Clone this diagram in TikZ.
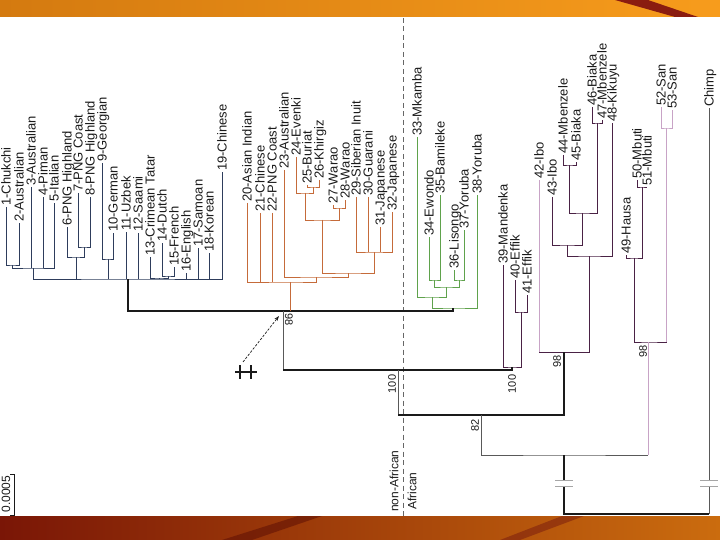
\documentclass[tikz,border=0pt]{standalone}
\usepackage{fontspec}
\setmainfont{Liberation Sans}
\usetikzlibrary{arrows.meta}
\definecolor{slideink}{HTML}{1A1A1A}
\definecolor{eurasia}{HTML}{2E3D5C}
\definecolor{eastasia}{HTML}{C56B3A}
\definecolor{bantu}{HTML}{5FA24C}
\definecolor{afrodark}{HTML}{4A2245}
\definecolor{afrolight}{HTML}{C8A3C6}
\definecolor{bandamber}{HTML}{D47A10}
\definecolor{bandorange}{HTML}{F79C1C}
\definecolor{bandred}{HTML}{8A1C10}
\definecolor{bandrust}{HTML}{7A1606}
\definecolor{bandcopper}{HTML}{CB6C0E}

\begin{document}
\begin{tikzpicture}[
  x=1pt,
  y=-1pt,
  every node/.style={font=\fontsize{13}{15}\selectfont, slideink},
  leaf/.style={rotate=90, anchor=west, inner sep=1pt, text height=9.3pt, text depth=0pt},
  side/.style={font=\fontsize{12}{14}\selectfont},
  boot/.style={font=\fontsize{11}{13}\selectfont, inner sep=0pt},
  branch/.style={line width=0.9pt},
  eurbranch/.style={branch, eurasia},
  asiabranch/.style={branch, eastasia},
  bantubranch/.style={branch, bantu},
  afrobranch/.style={branch, afrodark},
  afropale/.style={branch, afrolight},
  backbone/.style={slideink, line width=1.3pt},
  twig/.style={black!65, line width=0.8pt}
]
  \useasboundingbox (0,0) rectangle (720,540);

  % ================= slide bands =========================================
  \shade[left color=bandamber, right color=bandorange] (0,0) rectangle (720,17);
  \fill[bandred] (615,0) -- (648,0) -- (698,17) -- (675,17) -- cycle;
  \shade[left color=bandrust, right color=bandcopper] (0,516) rectangle (720,540);
  \fill[bandrust!80!black, opacity=0.6] (222,540) -- (252,540) -- (322,516) -- (298,516) -- cycle;
  \fill[bandred!85!black, opacity=0.5] (500,540) -- (520,540) -- (584,516) -- (562,516) -- cycle;

  % ================= non-African / African divider =======================
  \draw[black!60, line width=0.7pt, dash pattern=on 5pt off 3.5pt] (403,18) -- (403,516);
  \node[side, rotate=90] (nonafr) at (394,481) {non-African};
  \node[side, rotate=90] (afr) at (412,491) {African};

  % ================= leaves ==============================================
  \foreach \n/\x/\y/\t in {1/6/207/Chukchi, 2/19/223/Australian, 3/31/187/Australian,
      4/43/197/Piman, 5/54/203/Italian, 6/67/227/PNG Highland, 7/78/193/PNG Coast,
      8/90/197/PNG Highland, 9/102/163/Georgian, 10/113/233/German, 11/126/232/Uzbek,
      12/138/233/Saami, 13/150/257/Crimean Tatar, 14/162/243/Dutch, 15/174/267/French,
      16/186/273/English, 17/198/248/Samoan, 18/209/253/Korean, 19/222/172/Chinese,
      20/247/203/Asian Indian, 21/260/213/Chinese, 22/272/213/PNG Coast,
      23/284/170/Australian, 24/296/157/Evenki, 25/307/185/Buriat, 26/319/180/Khirgiz,
      27/333/205/Warao, 28/345/200/Warao, 29/356/197/Siberian Inuit, 30/368/197/Guarani,
      31/380/227/Japanese, 32/392/212/Japanese,
      33/417/137/Mkamba, 34/429/237/Ewondo, 35/440/195/Bamileke, 36/454/270/Lisongo,
      37/464/230/Yoruba, 38/477/195/Yoruba,
      39/503/265/Mandenka, 40/515/280/Effik, 41/527/295/Effik, 42/539/180/Ibo,
      43/552/197/Ibo, 44/563/155/Mbenzele, 45/576/162/Biaka, 46/592/107/Biaka,
      47/602/120/Mbenzele, 48/612/123/Kikuyu, 49/626/255/Hausa, 50/637/180/Mbuti,
      51/647/187/Mbuti, 52/661/107/San, 53/672/110/San}
    \node[leaf] (l\n) at (\x,\y) {\n-\t};
  \node[leaf] (chimp) at (709,108) {Chimp};

  % ================= Eurasian cluster ====================================
  \coordinate (g1a) at (12.5,265);
  \coordinate (g1b) at (33,268);
  \coordinate (g1c) at (84,247);
  \coordinate (g1d) at (76,257);
  \coordinate (g1e) at (108,259);
  \coordinate (g1f) at (168,276);
  \coordinate (g1g) at (159,278);
  \coordinate (g1) at (128,279);
  \draw[eurbranch] (l1.west) |- (g1a) -| (l2.west);
  \draw[eurbranch] (g1a) |- (g1b) -| (l5.west);
  \draw[eurbranch] (l7.west) |- (g1c) -| (l8.west);
  \draw[eurbranch] (l6.west) |- (g1d) -| (g1c);
  \draw[eurbranch] (l9.west) |- (g1e) -| (l10.west);
  \draw[eurbranch] (l14.west) |- (g1f) -| (l15.west);
  \draw[eurbranch] (l13.west) |- (g1g) -| (g1f);
  \draw[eurbranch] (g1b) |- (g1) -| (l19.west);
  \foreach \c in {l3.west, l4.west}
    \draw[eurbranch] (\c) -- (\c |- g1b);
  \foreach \c in {g1d, g1e, l11.west, l12.west, g1g, l16.west, l17.west, l18.west}
    \draw[eurbranch] (\c) -- (\c |- g1);

  % ================= East Asian / American cluster =======================
  \coordinate (o1) at (313,187);
  \coordinate (o2) at (305,193);
  \coordinate (o3) at (339,208);
  \coordinate (o4) at (322,220);
  \coordinate (o5) at (374,252);
  \coordinate (o6) at (348,273);
  \coordinate (o7) at (316,277);
  \coordinate (o8) at (290,282);
  \draw[asiabranch] (l25.west) |- (o1) -| (l26.west);
  \draw[asiabranch] (l24.west) |- (o2) -| (o1);
  \draw[asiabranch] (l27.west) |- (o3) -| (l28.west);
  \draw[asiabranch] (o2) |- (o4) -| (o3);
  \draw[asiabranch] (l29.west) |- (o5) -| (l32.west);
  \foreach \c in {l30.west, l31.west}
    \draw[asiabranch] (\c) -- (\c |- o5);
  \draw[asiabranch] (o4) |- (o6) -| (o5);
  \draw[asiabranch] (l23.west) |- (o7) -| (o6);
  \draw[asiabranch] (l20.west) |- (o8) -| (o7);
  \foreach \c in {l21.west, l22.west}
    \draw[asiabranch] (\c) -- (\c |- o8);

  % ================= Bantu cluster =======================================
  \coordinate (gr1) at (434.5,280);
  \coordinate (gr2) at (459,280);
  \coordinate (gr3) at (446,287);
  \coordinate (gr4) at (432,297);
  \coordinate (gr5) at (453,308);
  \draw[bantubranch] (l34.west) |- (gr1) -| (l35.west);
  \draw[bantubranch] (l36.west) |- (gr2) -| (l37.west);
  \draw[bantubranch] (gr1) |- (gr3) -| (gr2);
  \draw[bantubranch] (l33.west) |- (gr4) -| (gr3);
  \draw[bantubranch] (gr4) |- (gr5) -| (l38.west);

  % ================= African clusters ====================================
  \coordinate (p1) at (521,312);
  \coordinate (p2) at (512,367);
  \coordinate (p3) at (569.5,165);
  \coordinate (p4) at (597,123);
  \coordinate (p5) at (582,213);
  \coordinate (p6) at (567,245);
  \coordinate (p7) at (589,256);
  \coordinate (p8) at (564,352);
  \coordinate (p9) at (642,187);
  \coordinate (p10) at (634,258);
  \coordinate (p11) at (666.5,128);
  \coordinate (p12) at (648,342);
  \draw[afrobranch] (l40.west) |- (p1) -| (l41.west);
  \draw[afrobranch] (l39.west) |- (p2) -| (p1);
  \draw[afrobranch] (l44.west) |- (p3) -| (l45.west);
  \draw[afrobranch] (l46.west) |- (p4) -| (l47.west);
  \draw[afrobranch] (p3) |- (p5) -| (p4);
  \draw[afrobranch] (l43.west) |- (p6) -| (p5);
  \draw[afrobranch] (p6) |- (p7) -| (l48.west);
  \draw[afropale] (l42.west) -- (l42.west |- p8);
  \draw[afrobranch] (l42.west |- p8) -| (p7);
  \draw[afrobranch] (l50.west) |- (p9) -| (l51.west);
  \draw[afrobranch] (l49.west) |- (p10) -| (p9);
  \draw[afropale] (l52.west) |- (p11) -| (l53.west);
  \draw[afrobranch] (p10) |- (p12) -- (p12 -| p11);
  \draw[afropale] (p12 -| p11) -- (p11);

  % ================= backbone ============================================
  \coordinate (b1) at (283,311);
  \coordinate (b2) at (398,370);
  \coordinate (b3) at (481,415);
  \coordinate (b4) at (564,455);
  \coordinate (r0) at (636,514);
  \draw[backbone] (g1) |- (b1) -| (gr5);
  \draw[asiabranch] (o8) -- (o8 |- b1);
  \draw[twig] (b1) -- (b1 |- b2);
  \draw[backbone] (b1 |- b2) -| (p2);
  \draw[twig] (b2) -- (b2 |- b3);
  \draw[backbone] (b2 |- b3) -| (p8);
  \draw[twig] (b3) |- (b4) -- (b4 -| p12);
  \draw[afropale] (b4 -| p12) -- (p12);
  \draw[backbone] (b4) |- (r0) -- (r0 -| chimp.west);
  \draw[twig] (r0 -| chimp.west) -- (chimp.west);

  % breaks in the two long branches
  \coordinate (brkA) at (564,483);
  \coordinate (brkB) at (709,483);
  \foreach \c in {brkA, brkB} {
    \fill[white] ([xshift=-9pt,yshift=-3pt]\c) rectangle ([xshift=9pt,yshift=3pt]\c);
    \draw[black!35, line width=0.8pt]
      ([xshift=-9pt,yshift=-3pt]\c) -- ([xshift=9pt,yshift=-3pt]\c)
      ([xshift=-9pt,yshift=3pt]\c) -- ([xshift=9pt,yshift=3pt]\c);
  }

  % ================= bootstrap values ====================================
  \node[boot, rotate=-90] (bs1) at (289,320) {98};
  \node[boot, rotate=90] (bs2) at (392,384) {100};
  \node[boot, rotate=90] (bs3) at (512,384) {100};
  \node[boot, rotate=90] (bs4) at (475,425) {82};
  \node[boot, rotate=90] (bs5) at (557,361) {98};
  \node[boot, rotate=90] (bs6) at (643,351) {98};

  % ================= cut mark and its arrow ==============================
  \draw[slideink, line width=2.6pt] (235,372) -- (257,372)
    (240,365) -- (240,379) (251,365) -- (251,379);
  \coordinate (cuttail) at (243,362);
  \coordinate (cuthead) at (279,316);
  \draw[slideink, line width=0.7pt, dash pattern=on 2.5pt off 1.5pt,
        -{Stealth[length=5pt, width=3.5pt]}] (cuttail) -- (cuthead);

  % ================= scale bar ===========================================
  \draw[slideink, line width=0.8pt] (10,474) -- (14,474) -- (14,515) -- (10,515);
  \node[side, rotate=90] (scale) at (6,494) {0.0005};
\end{tikzpicture}
\end{document}
